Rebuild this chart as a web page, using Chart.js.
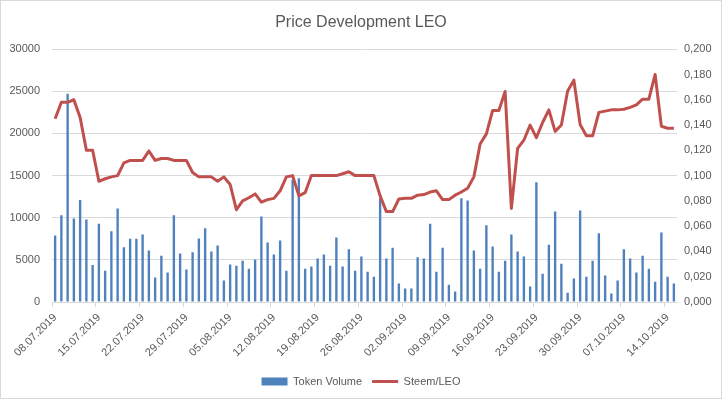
<!DOCTYPE html>
<html>
<head>
<meta charset="utf-8">
<title>Price Development LEO</title>
<script src="https://cdn.jsdelivr.net/npm/chart.js@4.4.1/dist/chart.umd.min.js"></script>
<style>
  html, body { margin: 0; padding: 0; background: #fff; }
  canvas { display: block; }
</style>
</head>
<body>
<canvas id="chart" width="722" height="399"></canvas>
<script>
// 日期：08.07.2019 起共 100 天
const START_DATE = new Date(2019, 6, 8);
const DAY_COUNT = 100;

// Token Volume（左轴）
const VOLUME = [
  7900, 10300, 24700, 9900, 12100, 9800, 4400, 9300, 3700, 8400, 11100, 6500, 7500, 7500, 8000, 6100, 2900,
  5500, 3500, 10300, 5750, 3850, 5900, 7550, 8750, 6000, 6700, 2550, 4450, 4300, 4900, 3950, 5050, 10150,
  7050, 5650, 7300, 3700, 14550, 14700, 3950, 4200, 5150, 5650, 4300, 7650, 4200, 6250, 3700, 5400,
  3600, 3000, 12300, 5150, 6450, 2200, 1600, 1600, 5300, 5150, 9300, 3600, 6450, 2050, 1250, 12300, 12050,
  6100, 3950, 9100, 6600, 3600, 4900, 8000, 6000, 5400, 1850, 14200, 3350, 6800, 10750, 4550, 1100, 2800,
  10850, 3000, 4900, 8150, 3150, 1000, 2550, 6250, 5150, 3500, 5500, 3950, 2400, 8250, 3000, 2200
];

// Steem/LEO（右轴）
const PRICE = [
  0.145, 0.158, 0.158, 0.160, 0.146, 0.120, 0.120, 0.0955, 0.0975, 0.099, 0.100, 0.110, 0.112, 0.112, 0.112, 0.1195, 0.112,
  0.1135, 0.1135, 0.112, 0.112, 0.112, 0.1025, 0.099, 0.099, 0.099, 0.0955, 0.099, 0.093, 0.073, 0.080, 0.0825, 0.0855, 0.079,
  0.081, 0.082, 0.088, 0.099, 0.100, 0.084, 0.0865, 0.100, 0.100, 0.100, 0.100, 0.100, 0.1015, 0.103, 0.100, 0.100,
  0.100, 0.100, 0.084, 0.0715, 0.0715, 0.0815, 0.082, 0.082, 0.0845, 0.085, 0.087, 0.088, 0.081, 0.081, 0.0845, 0.087, 0.090,
  0.099, 0.125, 0.133, 0.1515, 0.1515, 0.1665, 0.074, 0.1215, 0.128, 0.140, 0.130, 0.142, 0.152, 0.135, 0.140, 0.167, 0.1755,
  0.1405, 0.1315, 0.1315, 0.150, 0.151, 0.152, 0.152, 0.1525, 0.154, 0.156, 0.1605, 0.1605, 0.180, 0.139, 0.1375, 0.1375
];

const LABEL_EVERY = 7;

function pad2(n) { return n < 10 ? '0' + n : '' + n; }

const LABELS = [];
for (let i = 0; i < DAY_COUNT; i++) {
  const d = new Date(START_DATE.getFullYear(), START_DATE.getMonth(), START_DATE.getDate() + i);
  LABELS.push(pad2(d.getDate()) + '.' + pad2(d.getMonth() + 1) + '.' + d.getFullYear());
}

const TEXT = '#595959';
const GRID = '#d9d9d9';
const FONT = "'Liberation Sans', Arial, sans-serif";

// 白底 + 外框
const frame = {
  id: 'frame',
  beforeDraw(chart) {
    const c = chart.ctx;
    c.save();
    c.fillStyle = '#fff';
    c.fillRect(0, 0, chart.width, chart.height);
    c.restore();
  },
  afterDraw(chart) {
    const c = chart.ctx;
    c.save();
    c.strokeStyle = GRID;
    c.lineWidth = 1;
    c.strokeRect(0.5, 0.5, chart.width - 1, chart.height - 1);
    c.restore();
  }
};

new Chart(document.getElementById('chart'), {
  data: {
    labels: LABELS,
    datasets: [
      {
        type: 'bar',
        label: 'Token Volume',
        data: VOLUME,
        yAxisID: 'y',
        backgroundColor: '#4f81bd',
        borderWidth: 0,
        barPercentage: 0.38,
        categoryPercentage: 1.0,
        pointStyle: 'rect',
        order: 1
      },
      {
        type: 'line',
        label: 'Steem/LEO',
        data: PRICE,
        yAxisID: 'y1',
        borderColor: '#c0504d',
        backgroundColor: '#c0504d',
        borderWidth: 3,
        pointRadius: 0,
        tension: 0,
        borderJoinStyle: 'round',
        pointStyle: 'line',
        order: 0
      }
    ]
  },
  options: {
    responsive: false,
    animation: false,
    layout: { padding: { left: 0, right: 0, top: 0, bottom: 2 } },
    plugins: {
      title: {
        display: true,
        text: 'Price Development LEO',
        color: TEXT,
        font: { family: FONT, size: 16, weight: 'normal' },
        padding: { top: 13, bottom: 17 }
      },
      legend: {
        position: 'bottom',
        labels: {
          color: TEXT,
          font: { family: FONT, size: 11 },
          usePointStyle: true,
          pointStyleWidth: 26,
          boxHeight: 8,
          padding: 10,
          sort: (a, b) => a.datasetIndex - b.datasetIndex
        }
      },
      tooltip: { enabled: false }
    },
    scales: {
      x: {
        offset: true,
        grid: {
          offset: true,
          drawOnChartArea: false,
          drawTicks: true,
          tickLength: 5,
          color: ctx => (ctx.index % LABEL_EVERY === 0 ? GRID : 'rgba(0,0,0,0)')
        },
        border: { display: true, color: GRID, width: 1 },
        ticks: {
          autoSkip: false,
          minRotation: 45,
          maxRotation: 45,
          padding: 4,
          color: TEXT,
          font: { family: FONT, size: 11 },
          callback: (v, i) => (i % LABEL_EVERY === 0 ? LABELS[i] : '')
        },
        afterFit: s => { s.height = 64; }
      },
      y: {
        position: 'left',
        min: 0,
        max: 30000,
        grid: { color: GRID, drawTicks: false },
        border: { display: false },
        ticks: {
          stepSize: 5000,
          padding: 12,
          color: TEXT,
          font: { family: FONT, size: 11 },
          callback: v => String(v)
        },
        afterFit: s => { s.width = 52; }
      },
      y1: {
        position: 'right',
        min: 0,
        max: 0.2,
        grid: { drawOnChartArea: false, drawTicks: false },
        border: { display: false },
        ticks: {
          stepSize: 0.02,
          padding: 7,
          color: TEXT,
          font: { family: FONT, size: 11 },
          callback: v => v.toFixed(3).replace('.', ',')
        },
        afterFit: s => { s.width = 45; }
      }
    }
  },
  plugins: [frame]
});
</script>
</body>
</html>
